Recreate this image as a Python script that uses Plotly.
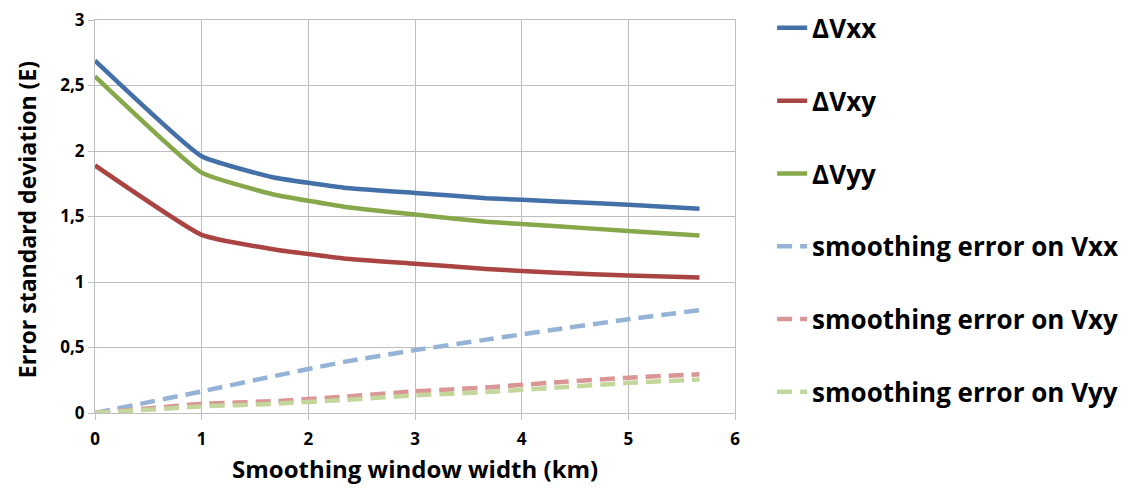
import plotly.graph_objects as go

x_km = [0, 1, 1.667, 2.333, 3, 3.667, 4.333, 5, 5.667]
dVxx = [2.69, 1.96, 1.80, 1.72, 1.68, 1.64, 1.615, 1.59, 1.56]
dVxy = [1.89, 1.36, 1.25, 1.18, 1.14, 1.10, 1.07, 1.05, 1.035]
dVyy = [2.57, 1.835, 1.67, 1.575, 1.515, 1.46, 1.425, 1.39, 1.355]
sVxx = [0, 0.165, 0.28, 0.39, 0.48, 0.56, 0.64, 0.715, 0.785]
sVxy = [0, 0.07, 0.09, 0.125, 0.165, 0.195, 0.235, 0.27, 0.295]
sVyy = [0, 0.05, 0.07, 0.10, 0.135, 0.16, 0.195, 0.23, 0.255]

names = ["ΔVxx", "ΔVxy", "ΔVyy",
         "smoothing error on Vxx", "smoothing error on Vxy", "smoothing error on Vyy"]
series = [dVxx, dVxy, dVyy, sVxx, sVxy, sVyy]
colors = ["#4470A8", "#A94442", "#86A84A", "#95B3D7", "#D99694", "#C3D69B"]
dashes = ["solid", "solid", "solid", "15px,8px", "15px,8px", "15px,8px"]

x_title = "Smoothing window width (km)"
y_title = "Error standard deviation (E)"

fig = go.Figure()
for i, (n, s, c, d) in enumerate(zip(names, series, colors, dashes)):
    fig.add_trace(go.Scatter(x=x_km, y=s, mode="lines", name=n, legendgroup=str(i),
                             line=dict(color=c, width=4.5, dash=d, shape="spline", smoothing=0.4)))

font_fam = "'Open Sans', sans-serif"
fig.update_layout(
    width=1131, height=490,
    margin=dict(l=87, r=404, t=12, b=85, autoexpand=False),
    plot_bgcolor="white", paper_bgcolor="white",
    separators=", ",
    font=dict(family=font_fam, color="black"),
    legend=dict(x=1.058, y=1.0396, xanchor="left", yanchor="top", maxheight=1000,
                font=dict(size=26, family=font_fam, color="black", weight="bold"),
                tracegroupgap=36, itemwidth=30, bgcolor="rgba(0,0,0,0)"),
    xaxis=dict(range=[0, 6], dtick=1, showgrid=True, gridcolor="#BEBEBE", gridwidth=1,
               showline=True, linecolor="#BEBEBE", linewidth=1, mirror=True, automargin=False,
               ticks="outside", ticklen=6, tickcolor="#BEBEBE", ticklabelstandoff=5,
               ticklabeloverflow="allow",
               tickfont=dict(size=17, weight="bold"), zeroline=False),
    yaxis=dict(range=[0, 3], dtick=0.5, showgrid=True, gridcolor="#BEBEBE", gridwidth=1,
               showline=True, linecolor="#BEBEBE", linewidth=1, mirror=True, automargin=False,
               ticks="outside", ticklen=6, tickcolor="#BEBEBE", ticklabeloverflow="allow",
               tickfont=dict(size=17, weight="bold"), zeroline=False, tickformat=".1~f"),
    annotations=[
        dict(text=x_title, xref="paper", yref="paper", x=0.5, y=-0.14, xanchor="center",
             yanchor="middle", showarrow=False, font=dict(size=24, weight="bold", color="black")),
        dict(text=y_title, xref="paper", yref="paper", x=-0.107, y=0.492, xanchor="center",
             yanchor="middle", textangle=-90, showarrow=False,
             font=dict(size=23, weight="bold", color="black")),
    ],
)
fig.write_html("out.html")
